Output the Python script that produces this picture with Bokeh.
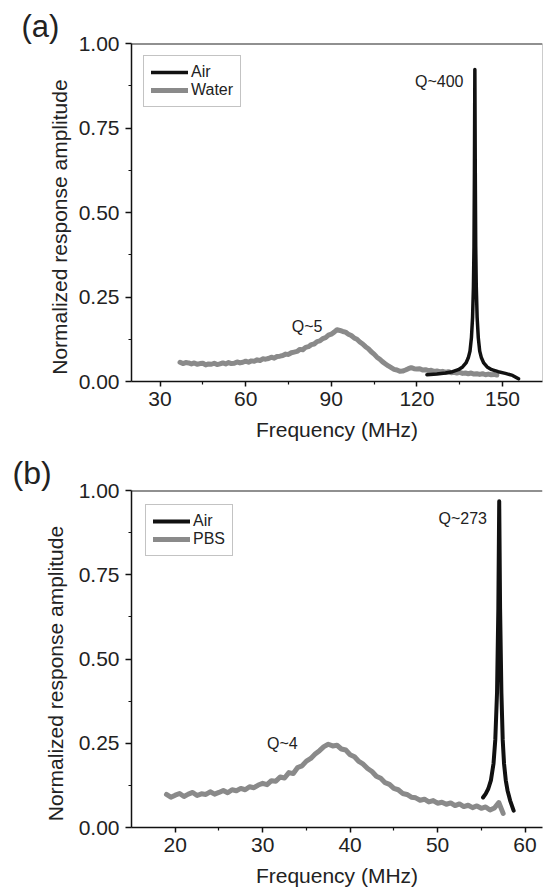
from bokeh.plotting import figure
from bokeh.models import Span, Label, Legend, LegendItem, FixedTicker, NumeralTickFormatter, Range1d
from bokeh.layouts import column
from bokeh.embed import file_html
from bokeh.resources import INLINE

# ---------------- data: panel (a) ----------------
water_freq = [37, 38, 39, 40, 41, 42, 43, 44, 45, 46, 47, 48, 49, 50, 51, 52, 53, 54, 55, 56,
              57, 58, 59, 60, 61, 62, 63, 64, 65, 66, 67, 68, 69, 70, 71, 72, 73, 74, 75, 76,
              77, 78, 79, 80, 81, 82, 83, 84, 85, 86, 87, 88, 89, 90, 91, 92, 93, 94, 95, 96,
              97, 98, 99, 100, 101, 102, 103, 104, 105, 106, 107, 108, 109, 110, 111, 112, 113,
              114, 115, 116, 117, 118, 119, 120, 121, 122, 123, 124, 125, 126, 127, 128, 129,
              130, 131, 132, 133, 134, 135, 136, 137, 138, 139, 140, 141, 142, 143, 144, 145,
              146, 147, 148]
water_amp = [.057, .053, .056, .055, .052, .055, .051, .053, .054, .049, .052, .051, .054, .050,
             .052, .055, .052, .056, .053, .054, .058, .055, .057, .060, .057, .061, .060, .064,
             .062, .067, .066, .068, .072, .069, .074, .075, .077, .081, .080, .085, .087, .089,
             .095, .094, .101, .103, .109, .111, .118, .120, .127, .130, .137, .140, .146, .153,
             .151, .148, .146, .140, .136, .129, .125, .117, .111, .103, .097, .088, .081, .072,
             .066, .058, .052, .046, .041, .036, .034, .030, .031, .034, .038, .041, .038, .037,
             .038, .034, .035, .032, .033, .030, .031, .029, .030, .027, .029, .026, .027, .025,
             .027, .024, .025, .023, .025, .022, .023, .021, .023, .020, .022, .020, .021, .019]

air_a_freq = [123.5, 127, 130, 132.5, 134.5, 136, 137.2, 138.0, 138.6, 139.1, 139.5, 139.8,
              140.0, 140.15, 140.3, 140.45, 140.6, 140.8, 141.1, 141.5, 142.0, 142.6, 143.4,
              144.6, 146.2, 148.5, 151, 153.5, 155.6]
air_a_amp = [.020, .022, .025, .029, .035, .043, .055, .070, .090, .130, .190, .280,
             .400, .620, .923, .620, .400, .280, .190, .130, .090, .070, .055,
             .043, .035, .029, .024, .018, .008]

# ---------------- data: panel (b) ----------------
pbs_freq = [19.0, 19.5, 20.0, 20.5, 21.0, 21.5, 22.0, 22.5, 23.0, 23.5, 24.0, 24.5, 25.0, 25.5,
            26.0, 26.5, 27.0, 27.5, 28.0, 28.5, 29.0, 29.5, 30.0, 30.5, 31.0, 31.5, 32.0, 32.5,
            33.0, 33.5, 34.0, 34.5, 35.0, 35.5, 36.0, 36.5, 37.0, 37.5, 38.0, 38.5, 39.0, 39.5,
            40.0, 40.5, 41.0, 41.5, 42.0, 42.5, 43.0, 43.5, 44.0, 44.5, 45.0, 45.5, 46.0, 46.5,
            47.0, 47.5, 48.0, 48.5, 49.0, 49.5, 50.0, 50.5, 51.0, 51.5, 52.0, 52.5, 53.0, 53.5,
            54.0, 54.5, 55.0, 55.5, 56.0, 56.5, 57.0, 57.5]
pbs_amp = [.098, .090, .096, .101, .092, .099, .104, .095, .100, .098, .106, .099, .104, .110,
           .103, .112, .109, .116, .112, .121, .118, .126, .131, .127, .139, .137, .150, .147,
           .163, .160, .178, .183, .197, .205, .218, .228, .240, .247, .242, .244, .233, .230,
           .216, .210, .196, .188, .175, .166, .152, .146, .133, .128, .116, .112, .101, .098,
           .090, .088, .081, .084, .076, .080, .072, .075, .069, .073, .065, .070, .062, .066,
           .059, .064, .057, .061, .052, .058, .074, .042]

air_b_freq = [55.2, 55.5, 55.8, 56.1, 56.4, 56.6, 56.8, 56.95, 57.05, 57.15, 57.3, 57.45,
              57.6, 57.8, 58.0, 58.3, 58.7]
air_b_amp = [.089, .100, .115, .140, .190, .260, .400, .650, .968, .650, .400, .260,
             .190, .140, .110, .080, .050]

# ---------------- axes / ticks ----------------
a_xticks = [30, 60, 90, 120, 150]
a_xminor = [45, 75, 105, 135]
b_xticks = [20, 30, 40, 50, 60]
b_xminor = [25, 35, 45, 55]
yticks = [0.0, 0.25, 0.5, 0.75, 1.0]
yminor = [0.125, 0.375, 0.625, 0.875]

FONT = "Liberation Sans"
BLACK = "#111111"
GREY = "#8a8a8a"
TXT = "#222222"
NB = "\u00a0" * 5


def style_axes(p, xticks, xminor, ylabel_standoff):
    p.xaxis.ticker = FixedTicker(ticks=xticks, minor_ticks=xminor)
    p.yaxis.ticker = FixedTicker(ticks=yticks, minor_ticks=yminor)
    p.yaxis.formatter = NumeralTickFormatter(format="0.00")
    for ax in (p.xaxis[0], p.yaxis[0]):
        ax.axis_line_color = BLACK
        ax.axis_line_width = 1.5
        ax.major_tick_line_color = BLACK
        ax.major_tick_line_width = 1.5
        ax.minor_tick_line_color = BLACK
        ax.minor_tick_line_width = 1.2
        ax.major_tick_in = 0
        ax.minor_tick_in = 0
        ax.major_label_text_font = FONT
        ax.major_label_text_font_size = "21px"
        ax.major_label_text_color = TXT
        ax.axis_label_text_font = FONT
        ax.axis_label_text_font_size = "21px"
        ax.axis_label_text_font_style = "normal"
        ax.axis_label_text_color = TXT
    p.xaxis.major_tick_out = 5
    p.xaxis.minor_tick_out = 3
    p.yaxis.major_tick_out = 6
    p.yaxis.minor_tick_out = 3
    p.xaxis.major_label_standoff = 5
    p.yaxis.major_label_standoff = 6
    p.yaxis.axis_label_standoff = ylabel_standoff
    p.xaxis.axis_label_standoff = 9
    p.xgrid.grid_line_color = None
    p.ygrid.grid_line_color = None
    p.outline_line_color = None
    p.xaxis.axis_label = "Frequency (MHz)"
    p.yaxis.axis_label = "Normalized response amplitude" + NB


def style_title(p, offset, size):
    p.title.text_font = FONT
    p.title.text_font_size = size
    p.title.text_font_style = "normal"
    p.title.text_color = TXT
    p.title.align = "left"
    p.title.offset = offset
    p.title.standoff = 0


def make_legend(p, items, margin):
    leg = Legend(items=items, location="top_left")
    leg.margin = margin
    leg.padding = 7
    leg.spacing = 0
    leg.glyph_width = 37
    leg.glyph_height = 18
    leg.label_height = 18
    leg.label_standoff = 3
    leg.label_text_font = FONT
    leg.label_text_font_size = "16px"
    leg.label_text_color = TXT
    leg.border_line_color = "#888888"
    leg.border_line_width = 1
    leg.background_fill_alpha = 1
    p.add_layout(leg)


# ---------------- panel (a) ----------------
pa = figure(width=544, height=447, output_backend="svg", toolbar_location=None, title="(a)",
            x_range=Range1d(20, 164), y_range=Range1d(0, 1.0),
            min_border_left=123, min_border_right=2, min_border_top=43, min_border_bottom=66)
style_axes(pa, a_xticks, a_xminor, 5)
style_title(pa, -110, "31px")
rw = pa.line(water_freq, water_amp, line_color=GREY, line_width=5, line_join="round", line_cap="round")
ra = pa.line(air_a_freq, air_a_amp, line_color=BLACK, line_width=3.5, line_join="round", line_cap="round")
pa.add_layout(Span(location=1.0, dimension="width", line_color="#222222", line_width=2))
pa.add_layout(Span(location=164, dimension="height", line_color="#999999", line_width=1))
make_legend(pa, [LegendItem(label="Air", renderers=[ra]), LegendItem(label="Water", renderers=[rw])], 12)
pa.add_layout(Label(x=136.3, y=0.887, text="Q~400", text_align="right", text_baseline="middle",
                    text_font=FONT, text_font_size="16px", text_color=TXT))
pa.add_layout(Label(x=86.9, y=0.162, text="Q~5", text_align="right", text_baseline="middle",
                    text_font=FONT, text_font_size="16px", text_color=TXT))

# ---------------- panel (b) ----------------
pb = figure(width=544, height=445, output_backend="svg", toolbar_location=None, title="(b)",
            x_range=Range1d(15, 62), y_range=Range1d(0, 1.0),
            min_border_left=131, min_border_right=2, min_border_top=43, min_border_bottom=65)
style_axes(pb, b_xticks, b_xminor, 9)
style_title(pb, -119, "32px")
rp = pb.line(pbs_freq, pbs_amp, line_color=GREY, line_width=5, line_join="round", line_cap="round")
rb = pb.line(air_b_freq, air_b_amp, line_color=BLACK, line_width=4, line_join="round", line_cap="round")
pb.add_layout(Span(location=1.0, dimension="width", line_color="#222222", line_width=2))
make_legend(pb, [LegendItem(label="Air", renderers=[rb]), LegendItem(label="PBS", renderers=[rp])], 14)
pb.add_layout(Label(x=55.65, y=0.917, text="Q~273", text_align="right", text_baseline="middle",
                    text_font=FONT, text_font_size="16px", text_color=TXT))
pb.add_layout(Label(x=34.0, y=0.248, text="Q~4", text_align="right", text_baseline="middle",
                    text_font=FONT, text_font_size="16px", text_color=TXT))

layout = column(pa, pb, spacing=0)
open("out.html", "w").write(file_html(layout, INLINE))
